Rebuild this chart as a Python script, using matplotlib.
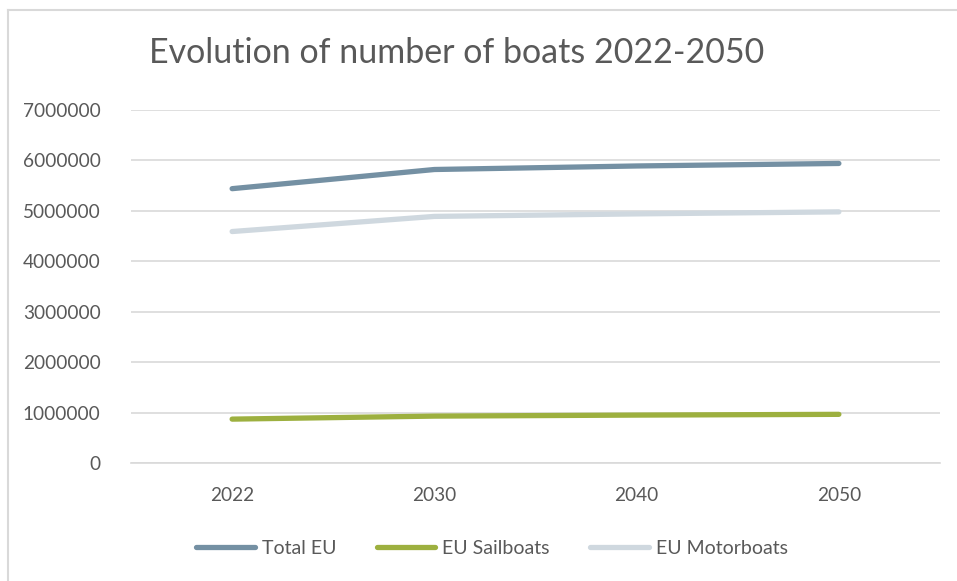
import matplotlib.pyplot as plt
from matplotlib.lines import Line2D

plt.rcParams['font.family'] = ['Lato', 'DejaVu Sans']

years = ['2022', '2030', '2040', '2050']
total_eu = [5440000, 5820000, 5890000, 5940000]
sailboats = [870000, 930000, 950000, 965000]
motorboats = [4590000, 4890000, 4940000, 4980000]

text_col = '#595959'
grid_col = '#d9d9d9'

fig = plt.figure(figsize=[9.57, 5.81], dpi=100)
ax = fig.add_axes([131 / 957, 1 - 463 / 581, (940 - 131) / 957, (463 - 110) / 581])

x = range(len(years))
ax.plot(x, total_eu, color='#7490a3', lw=3.8, solid_capstyle='round', label='Total EU')
ax.plot(x, sailboats, color='#9db03f', lw=3.8, solid_capstyle='round', label='EU Sailboats')
ax.plot(x, motorboats, color='#cfd8df', lw=3.8, solid_capstyle='round', label='EU Motorboats')

ax.set_xlim(-0.5, len(years) - 0.5)
ax.set_ylim(0, 7000000)
ax.set_yticks(range(0, 7000001, 1000000))
ax.set_yticklabels([str(v) for v in range(0, 7000001, 1000000)])
ax.set_xticks(list(x))
ax.set_xticklabels(years)
ax.tick_params(length=0, labelsize=13.7, colors=text_col)
ax.tick_params(axis='y', pad=22)
ax.tick_params(axis='x', pad=17)
ax.grid(axis='y', color=grid_col, lw=1.2)
ax.set_axisbelow(True)
for s in ['top', 'right', 'left']:
    ax.spines[s].set_visible(False)
ax.spines['bottom'].set_color(grid_col)
ax.spines['bottom'].set_linewidth(1.2)

fig.text(457 / 957, 1 - 53 / 581, 'Evolution of number of boats 2022-2050',
         ha='center', va='center', fontsize=24.5, color=text_col)

handles = [Line2D([], [], color=c, lw=3.8, solid_capstyle='round')
           for c in ['#7490a3', '#9db03f', '#cfd8df']]
fig.legend(handles, ['Total EU', 'EU Sailboats', 'EU Motorboats'],
           loc='center', bbox_to_anchor=(492 / 957, 1 - 548 / 581), ncol=3,
           frameon=False, fontsize=14, labelcolor=text_col, handlelength=3.0,
           handletextpad=0.35, columnspacing=2.1)

# chart frame (left and top edge visible in the crop)
fig.add_artist(Line2D([8 / 957, 8 / 957], [0, 1 - 10 / 581], color=grid_col, lw=1.5))
fig.add_artist(Line2D([8 / 957, 1], [1 - 10 / 581, 1 - 10 / 581], color=grid_col, lw=1.5))

plt.savefig('out.png', dpi=100)
